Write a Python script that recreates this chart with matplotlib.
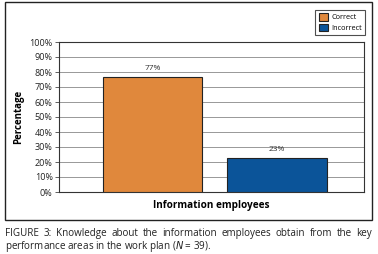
import matplotlib.pyplot as plt
from matplotlib.patches import Rectangle

# data
categories = ['Correct', 'Incorrect']
values = [77, 23]
bar_colors = ['#E0883C', '#0B5499']
y_ticks = list(range(0, 101, 10))

caption_1 = 'FIGURE 3: Knowledge about the information employees obtain from the key'
caption_2 = r'performance areas in the work plan ($\mathit{N}$ = 39).'

plt.rcParams['font.family'] = ['Open Sans', 'DejaVu Sans']

fig = plt.figure(figsize=(3.78, 2.54), dpi=100, facecolor='w')

# outer frame around the chart
fig.patches.append(Rectangle((5 / 378, 34 / 254), 367 / 378, 218 / 254,
                             transform=fig.transFigure, fill=False,
                             ec='#222222', lw=1.0))

ax = fig.add_axes([59 / 378, 62 / 254, 305 / 378, 150 / 254])
xs = range(len(values))
bars = ax.bar(xs, values, width=0.8, color=bar_colors, edgecolor='#222222',
              linewidth=0.8, zorder=3, label=categories)

for x, v in zip(xs, values):
    ax.annotate(f'{v}%', (x, v), xytext=(0, 3.5), textcoords='offset points',
                ha='center', va='bottom', fontsize=6, color='#333333')

ax.set_xlim(-0.75, 1.7)
ax.set_ylim(0, 100)
ax.set_yticks(y_ticks)
ax.set_yticklabels([f'{t}%' for t in y_ticks], fontsize=6.5, color='#222222')
ax.set_xticks([])
ax.tick_params(axis='y', length=3, width=0.6, pad=1.5, color='#444444')
ax.yaxis.grid(True, color='#888888', lw=0.6, zorder=0)
for s in ax.spines.values():
    s.set_color('#333333')
    s.set_linewidth(0.8)

ax.set_ylabel('Percentage', fontsize=7, fontweight='bold', labelpad=4)
ax.set_xlabel('Information employees', fontsize=7.2, fontweight='bold', labelpad=6)

leg = fig.legend(handles=bars, labels=categories, loc='upper right',
                 bbox_to_anchor=(369 / 378, 1 - 6 / 254), fontsize=5.3,
                 frameon=True, fancybox=False, edgecolor='#222222',
                 handlelength=1.2, handleheight=1.2, handletextpad=0.5,
                 borderpad=0.45, labelspacing=0.35)
leg.get_frame().set_linewidth(0.8)

# caption: first line justified across the frame width
left, right = 5 / 378, 372 / 378
cap_size = 7.1
words = caption_1.split()
renderer = fig.canvas.get_renderer()
texts = [fig.text(0, 1 - 236 / 254, w, fontsize=cap_size, color='#222222',
                  ha='left', va='baseline') for w in words]
widths = [t.get_window_extent(renderer).width / fig.bbox.width for t in texts]
gap = (right - left - sum(widths)) / (len(words) - 1)
x = left
for t, w in zip(texts, widths):
    t.set_x(x)
    x += w + gap

fig.text(left, 1 - 249 / 254, caption_2, fontsize=cap_size, color='#222222',
         ha='left', va='baseline')

fig.savefig('out.png', dpi=100, facecolor='w')
